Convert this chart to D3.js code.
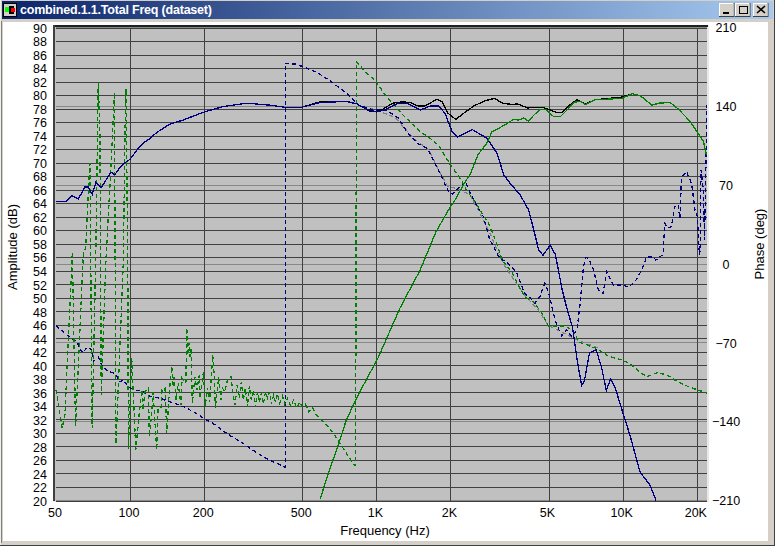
<!DOCTYPE html>
<html>
<head>
<meta charset="utf-8">
<title>combined.1.1.Total Freq (dataset)</title>
<script src="https://cdn.jsdelivr.net/npm/d3@7"></script>
<style>
    html, body { margin: 0; padding: 0; background: #fff; overflow: hidden; }
    text { font-family: "Liberation Sans", Arial, sans-serif; font-size: 13px; fill: #000; }
</style>
</head>
<body>
<div id="graph"></div>
<script>
const titleText = "combined.1.1.Total Freq (dataset)";
const freqTicks = [50, 100, 200, 500, 1000, 2000, 5000, 10000, 20000];
const ampTicks = d3.range(20, 91, 2);
const phaseTicks = [-210, -140, -70, 0, 70, 140, 210];

// [Hz, dB]
const totalAmp = [[497, 78.2], [590, 79], [690, 79.1], [767, 79], [834, 78.7], [915, 77.9], [940, 77.6], [1000, 77.6], [1060, 77.9], [1165, 78.8], [1280, 79], [1370, 78.9], [1475, 78.4], [1580, 78.4], [1765, 79.4], [1850, 79], [1955, 77.3], [2100, 76.4], [2300, 77.5], [2490, 78.4], [2780, 79.2], [3020, 79.5], [3250, 78.8], [3570, 78.6], [3740, 78.7], [4100, 78.1], [4720, 78.2], [5080, 77.8], [5410, 77.4], [5670, 77.4], [6130, 78.6], [6530, 79.3], [7050, 78.7], [7730, 79.3], [9900, 79.7], [10950, 80.2]];
const wooferAmp = [[50, 64.2], [55, 64.3], [58, 65.1], [61.6, 64.6], [65.6, 66.4], [67.6, 66.4], [70.2, 65.3], [72.7, 67.1], [76.4, 66.3], [83.7, 68.6], [86.7, 68.2], [91, 69.3], [96.3, 70.1], [100, 70.5], [105.8, 71.7], [112.9, 72.9], [119.8, 73.5], [128.7, 74.5], [145, 75.7], [164, 76.3], [200, 77.5], [239, 78.3], [298, 78.8], [370, 78.5], [425, 78.2], [497, 78.2], [590, 78.9], [690, 79], [767, 79], [834, 78.7], [915, 77.9], [1000, 77.5], [1085, 77.8], [1213, 78.7], [1330, 78.8], [1510, 77.8], [1660, 78.4], [1790, 78.4], [1900, 77.3], [2030, 74.6], [2140, 73.8], [2450, 74.9], [2815, 73.6], [3090, 71.4], [3290, 68.2], [3500, 66.9], [3840, 65.2], [4150, 63], [4290, 61], [4560, 57.1], [4750, 56.3], [5080, 57.8], [5330, 56.4], [5680, 51.2], [5960, 48.2], [6250, 45.7], [6560, 40.4], [6820, 37], [7000, 37.8], [7330, 41.8], [7800, 42.3], [8200, 39.8], [8580, 36.3], [8950, 38], [9300, 36.8], [9900, 33.6], [10700, 29.7], [11770, 24.2], [12900, 22.3], [13660, 20]];
const tweeterAmp = [[592, 20.3], [645, 24.5], [708, 28.7], [755, 31.9], [837, 35.4], [943, 38.9], [1016, 41.1], [1248, 48.5], [1506, 54.1], [1748, 59.8], [2000, 63.5], [2090, 64.5], [2270, 66.9], [2405, 68.3], [2590, 71.2], [2810, 72.9], [2950, 74.6], [3040, 74.8], [3290, 75.5], [3610, 76.4], [3780, 76.3], [3970, 76.6], [4150, 76.1], [4350, 77], [4630, 77.9], [4850, 77.9], [5250, 76.8], [5580, 76.8], [5950, 77.8], [6330, 78.9], [6730, 79.1], [7050, 78.6], [7730, 79.3], [9900, 79.5], [10950, 80.2], [11800, 79.9], [13150, 78.5], [14000, 78.8], [15600, 78.9], [16850, 77.9], [18800, 76.1], [20000, 74.6], [21300, 73.1], [21900, 71.1]];

// [Hz, deg]
const totalPhase = [[940, 138], [1190, 130], [1410, 111.4], [1630, 101], [1790, 83], [1955, 68], [2090, 67], [2405, 61], [2890, 27], [3090, 12], [3340, -3], [3670, -16.5], [4000, -28], [4610, -43], [4980, -55], [6560, -68], [7950, -75]];
const wooferPhase = [[50, -55], [53.5, -60.6], [57.9, -67], [61, -69.5], [62.6, -76], [64.6, -79.5], [66.6, -74.4], [69.8, -76.2], [71, -87], [74.2, -83], [76.8, -90], [81.6, -96], [87, -97.5], [91, -105], [93.9, -103.5], [98.4, -109.5], [106.5, -113], [111.6, -113], [118.7, -117.4], [132.5, -119.7], [145, -122.7], [167.5, -127.7], [187, -133.6], [199, -137.5], [219, -142.5], [250, -151.7], [280, -158], [327, -168], [370, -175], [420, -180], [427, -181], [427.5, 177.8], [470, 177], [505, 174.7], [572, 170], [656, 161.4], [745, 152.5], [845, 140.7], [975, 136.3], [1100, 136.3], [1230, 129], [1330, 117], [1465, 106.7], [1610, 102.3], [1715, 90.4], [1855, 75.7], [1945, 65.3], [2030, 61.7], [2120, 65.3], [2300, 72.6], [2480, 56.4], [2720, 41.6], [2890, 20.9], [3170, 4.6], [3420, 0.2], [3700, -7.3], [4000, -26.5], [4190, -30], [4400, -35.4], [4610, -29.5], [4830, -17.6], [5040, -28], [5230, -44.2], [5430, -56], [5660, -64], [5930, -59], [6220, -65], [6520, -59], [6720, -35.4], [6930, -2.9], [7110, 5.5], [7260, 4.6], [7620, -5.8], [7970, -23.5], [8340, -26.5], [8610, -7.3], [8880, -13], [9150, -19], [9920, -19], [10550, -21], [11240, -16], [11950, -5.8], [12510, 5.5], [13300, 6], [13640, 3], [14600, 8.2], [14830, 35.7], [15300, 31.2], [15780, 32.7], [16280, 50.4], [16800, 52], [17070, 40], [17340, 77], [18170, 81.5], [19040, 71.2], [19670, 47.5], [20100, 41.6], [20500, 7.5], [20630, 12], [20800, 83], [21300, 63.7], [21500, 21], [22000, 140.7]];
const tweeterPhase = [[50, -112], [53, -146], [54.4, -134.5], [58.3, 10], [60.1, -145], [64.6, 8.4], [66, 14], [68.7, 89], [70.2, -146], [72.5, 1.3], [74.3, 161], [75.5, 111.4], [76.4, -117], [79.7, 0.4], [84.3, 99], [86.4, 152], [87, 1.3], [87.7, -160], [93.9, 1.3], [95.4, 117], [96.3, 155], [97.9, 1.3], [98.4, -165], [101.6, -84], [105.5, -165.6], [108.8, -134.5], [111.6, -112.3], [112.9, -130], [115, -114], [118.7, -110.6], [119.8, -153.8], [122.8, -130], [124, -114], [128.3, -165.6], [129.9, -130], [133.7, -128.3], [134.8, -112.3], [138.7, -110.6], [141, -150.5], [144, -116.8], [147.7, -91.6], [149.5, -109.7], [150.9, -100.8], [153.8, -121.2], [156.7, -106], [161, -125.7], [162.6, -101.7], [168.5, -106], [170, -57.3], [171.3, -81.3], [173.7, -70.6], [175.3, -83], [177, -75], [179, -124], [183.5, -100.8], [187, -112.3], [191, -99], [192.7, -119.4], [198.7, -96], [202, -127.4], [206, -110.6], [210, -123], [212.5, -109.7], [216.6, -81.3], [220, -101.7], [222, -128.3], [229, -100.8], [233.6, -121.2], [237, -110.6], [242.7, -114], [249.5, -101.7], [257, -100.8], [262, -116.8], [267, -125.7], [272, -107.9], [277.7, -119.4], [283, -105.2], [288.6, -121.2], [294, -110.6], [299.6, -127.4], [305, -108.8], [310.8, -121.2], [316.7, -112.3], [322.7, -127.4], [328.9, -114], [335, -123], [341.5, -115], [348, -124.8], [354.6, -114], [361, -119.4], [368, -114], [375, -124.8], [382.4, -116.8], [389.7, -123], [397, -115.9], [404.6, -124], [416, -117.7], [424, -124.8], [436, -119.4], [448.6, -126.6], [461, -121.2], [474.6, -128.3], [488, -123], [497, -126.6], [516, -124.8], [531, -131.9], [552, -128.3], [568, -133.7], [590, -137.5], [645, -146.4], [676, -152.3], [718, -161], [788, -174.5], [813, -179], [824, -179.4], [830, 179], [914, 169], [1000, 161.4], [1085, 149.6], [1160, 142.8], [1280, 132], [1370, 126], [1510, 117], [1660, 111], [1820, 102.3], [2000, 87.5], [2190, 75.6], [2340, 63.8], [2490, 56.4], [2660, 46], [2880, 34], [3040, 21], [3250, 3], [3570, -8.7], [3800, -20.6], [4000, -29.5], [4340, -34], [4700, -44], [5000, -55.5], [5410, -55.5], [5850, -55.5], [6240, -59], [6630, -69.5], [7190, -72.4], [7800, -75.3], [8720, -82], [9900, -85.7], [10700, -88.6], [11800, -97], [12550, -100.5], [13800, -97], [15160, -99], [16660, -105], [18800, -110], [22000, -115]];

const width = 775;
const height = 546;
const plot = { left: 55.5, right: 707, top: 27.5, bottom: 500.5 };

const svg = d3.select("#graph")
    .append("svg")
    .attr("width", width)
    .attr("height", height)
    .style("display", "block");

// Window frame and title bar
function DrawWindow() {
    svg.append("rect").attr("width", width).attr("height", height).attr("fill", "#d4d0c8");
    svg.append("rect").attr("x", 3).attr("y", 22).attr("width", 765).attr("height", 519).attr("fill", "#fff");
    svg.append("rect").attr("x", 0).attr("y", 0).attr("width", 1).attr("height", height).attr("fill", "#f0eee8");
    svg.append("rect").attr("x", 1).attr("y", 21).attr("width", 1).attr("height", 522).attr("fill", "#808080");
    svg.append("rect").attr("x", 0).attr("y", 545).attr("width", width).attr("height", 1).attr("fill", "#404040");
    svg.append("rect").attr("x", 774).attr("y", 0).attr("width", 1).attr("height", height).attr("fill", "#404040");

    const grad = svg.append("defs").append("linearGradient").attr("id", "titlebar");
    grad.append("stop").attr("offset", "0%").attr("stop-color", "#0a246a");
    grad.append("stop").attr("offset", "100%").attr("stop-color", "#a6caf0");
    svg.append("rect").attr("x", 2).attr("y", 1).attr("width", 771).attr("height", 18).attr("fill", "url(#titlebar)");

    // little app icon
    svg.append("rect").attr("x", 3).attr("y", 3).attr("width", 14).attr("height", 14).attr("fill", "#000");
    svg.append("rect").attr("x", 4).attr("y", 4).attr("width", 12).attr("height", 12).attr("fill", "#d4d0c8");
    svg.append("rect").attr("x", 5).attr("y", 7).attr("width", 4).attr("height", 5).attr("fill", "#00ff00");
    svg.append("rect").attr("x", 9).attr("y", 6).attr("width", 5).attr("height", 8).attr("fill", "#000");
    svg.append("rect").attr("x", 11).attr("y", 8).attr("width", 4).attr("height", 4).attr("fill", "#ff0000");

    svg.append("text")
        .attr("x", 20).attr("y", 14)
        .attr("textLength", 192)
        .attr("lengthAdjust", "spacing")
        .style("font-weight", "bold")
        .style("font-size", "12.5px")
        .style("fill", "#fff")
        .text(titleText);

    // min / max / close
    [719, 735, 753].forEach(function (bx) {
        svg.append("rect").attr("x", bx).attr("y", 3).attr("width", 15.5).attr("height", 14).attr("fill", "#404040");
        svg.append("rect").attr("x", bx).attr("y", 3).attr("width", 14.5).attr("height", 13).attr("fill", "#fff");
        svg.append("rect").attr("x", bx + 1).attr("y", 4).attr("width", 13.5).attr("height", 12).attr("fill", "#d4d0c8");
    });
    svg.append("rect").attr("x", 723).attr("y", 12).attr("width", 6).attr("height", 2).attr("fill", "#000");
    svg.append("rect").attr("x", 739.5).attr("y", 6.5).attr("width", 8).attr("height", 7).attr("fill", "none").attr("stroke", "#000");
    svg.append("path").attr("d", "M757,6L765,13M765,6L757,13").attr("stroke", "#000").attr("stroke-width", 1.6);
}

DrawWindow();

// Scales
const x = d3.scaleLog().domain([50, 22000]).range([plot.left + 0.4, plot.right]);
const yAmp = d3.scaleLinear().domain([20, 90]).range([plot.bottom, plot.top]);
const yPhase = d3.scaleLinear().domain([-210, 210]).range([plot.bottom - 0.5, plot.top - 0.5]);

// sunken border and plot area
svg.append("rect").attr("x", 53).attr("y", 25).attr("width", 656).attr("height", 477).attr("fill", "#e8e8e8");
svg.append("rect").attr("x", 53).attr("y", 25).attr("width", 655).attr("height", 2).attr("fill", "#202020");
svg.append("rect").attr("x", 53).attr("y", 25).attr("width", 2).attr("height", 476).attr("fill", "#404040");
svg.append("rect")
    .attr("x", 55).attr("y", 27)
    .attr("width", 652).attr("height", 474)
    .attr("fill", "#c0c0c0");

svg.append("defs").append("clipPath").attr("id", "plot-clip")
    .append("rect")
    .attr("x", 55).attr("y", 27)
    .attr("width", 652).attr("height", 474);

// Axes. The tick lines double as the grid.
const phaseAxis = svg.append("g")
    .attr("class", "axis")
    .attr("transform", `translate(${plot.right},0)`)
    .call(d3.axisRight(yPhase).tickValues(phaseTicks).tickSize(plot.left - plot.right).tickPadding(0).tickFormat(d3.format("d")));
phaseAxis.selectAll("line").attr("stroke", "#888888").attr("shape-rendering", "crispEdges");
phaseAxis.selectAll("text")
    .attr("x", 19)
    .style("text-anchor", "middle")
    .attr("dy", "0.38em");

const ampAxis = svg.append("g")
    .attr("class", "axis")
    .attr("transform", `translate(${plot.left},0)`)
    .call(d3.axisLeft(yAmp).tickValues(ampTicks).tickSize(plot.left - plot.right).tickPadding(0).tickFormat(d3.format("d")));
ampAxis.selectAll("line").attr("stroke", "#404040").attr("shape-rendering", "crispEdges");
ampAxis.selectAll("text")
    .attr("x", -8.5)
    .attr("dy", "0.38em");

const freqAxis = svg.append("g")
    .attr("class", "axis")
    .attr("transform", `translate(0,${plot.bottom})`)
    .call(d3.axisBottom(x).tickValues(freqTicks).tickSize(plot.top - plot.bottom).tickPadding(0)
        .tickFormat(d => d >= 1000 ? (d / 1000) + "K" : d));
freqAxis.selectAll("line").attr("stroke", "#404040").attr("shape-rendering", "crispEdges");
freqAxis.selectAll(".tick").filter(d => d === 50).select("line").remove();
freqAxis.selectAll("text")
    .attr("y", 0)
    .attr("dy", "16px")
    .attr("dx", "-1.5px");
svg.selectAll(".axis .domain").remove();
svg.selectAll(".axis text").style("font-size", "12.5px").attr("fill", "#000");

// Axis titles
svg.append("text").attr("x", 385).attr("y", 535).attr("text-anchor", "middle").text("Frequency (Hz)");
svg.append("text")
    .attr("transform", "translate(17,247) rotate(-90)")
    .attr("text-anchor", "middle")
    .text("Amplitude (dB)");
svg.append("text")
    .attr("transform", "translate(764,244) rotate(-90)")
    .attr("text-anchor", "middle")
    .text("Phase (deg)");

// Curves
const ampLine = d3.line().x(d => x(d[0])).y(d => yAmp(d[1]));
const phaseLine = d3.line().x(d => x(d[0])).y(d => yPhase(d[1]));

const curves = svg.append("g")
    .attr("clip-path", "url(#plot-clip)")
    .attr("fill", "none")
    .attr("shape-rendering", "crispEdges");

function AddCurve(data, line, color, dash) {
    curves.append("path")
        .attr("d", line(data))
        .attr("stroke", color)
        .attr("stroke-width", 1.3)
        .attr("stroke-dasharray", dash);
}

AddCurve(totalPhase, phaseLine, "#808080", "4,3");
AddCurve(wooferPhase, phaseLine, "#000080", "4,3");
AddCurve(tweeterPhase, phaseLine, "#008000", "4,3");
AddCurve(totalAmp, ampLine, "#000000", null);
AddCurve(wooferAmp, ampLine, "#000080", null);
AddCurve(tweeterAmp, ampLine, "#008000", null);
</script>
</body>
</html>
